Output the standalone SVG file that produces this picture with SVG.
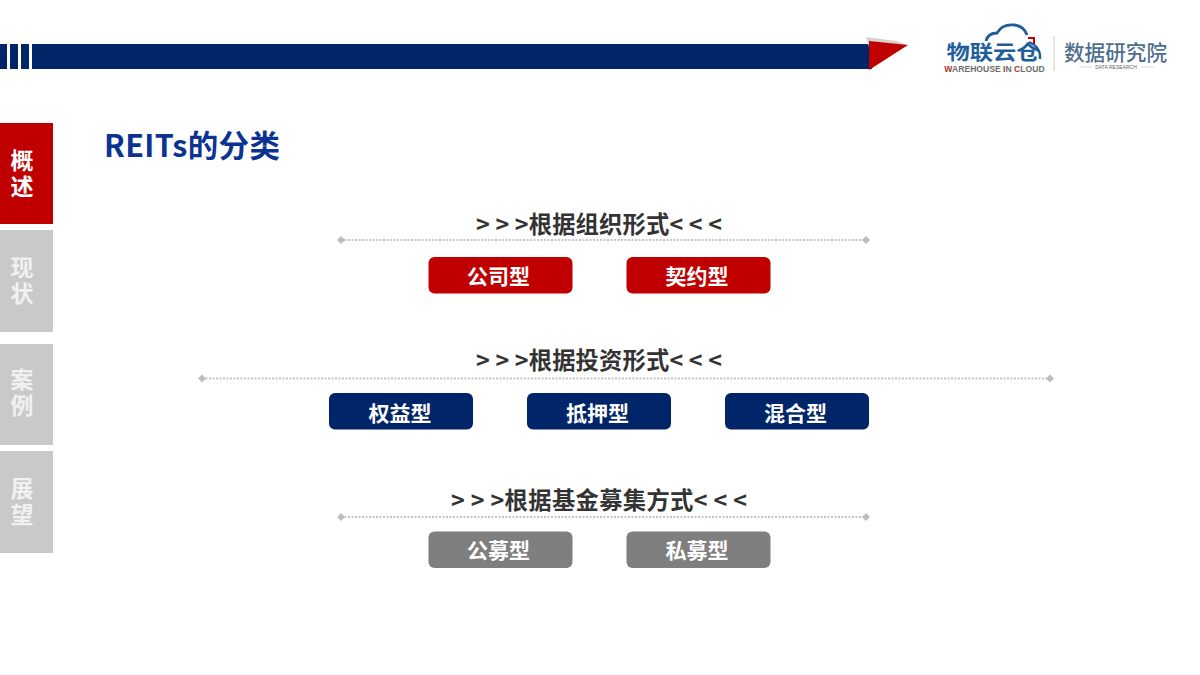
<svg xmlns="http://www.w3.org/2000/svg" width="1200" height="675" viewBox="0 0 1200 675">
<style>
text{font-family:"Noto Sans CJK SC","Liberation Sans",sans-serif;font-weight:700;text-anchor:middle}
.hd{font-size:23.300px;fill:#333}
.btn{font-size:21px;fill:#fff}
.side{font-size:23px;fill:#fff;writing-mode:vertical-rl;letter-spacing:3.500px}
.muted{fill:#f1f1f1}
.dot{stroke:#c4c4c4;stroke-width:2;stroke-dasharray:2 1.500;fill:none}
.end{fill:#bdbdbd}
.navy{fill:#002569}.red{fill:#c00000}.gr{fill:#7f7f7f}.lg{fill:#c9c9c9}
</style>
<rect width="1200" height="675" fill="#fff"/>
<g id="header">
<rect x="0" y="44" width="872" height="25" class="navy"/>
<rect x="7" y="44" width="3" height="25" fill="#fff"/><rect x="18" y="44" width="3" height="25" fill="#fff"/><rect x="29" y="44" width="3" height="25" fill="#fff"/>
<polygon points="866,37 896,41 908,45 869,47" fill="#d8d0d0"/>
<polygon points="869,41 908,45 869,70" fill="#c00000"/>
</g>
<g id="logo">
<path d="M986 41 Q988 33 997 33 Q1002 24 1014 25 Q1024 26 1027 35" fill="none" stroke="#1f5f99" stroke-width="2.800"/>
<path d="M1029 42 Q1041 47 1040 59" fill="none" stroke="#1f5f99" stroke-width="2.400"/>
<path d="M1028 38H1034V44" fill="none" stroke="#c00000" stroke-width="2"/>
<text x="993" y="60" textLength="93" lengthAdjust="spacingAndGlyphs" style="font-size:20px;fill:#1f5f99">物联云仓</text>
<text x="994.500" y="72" style="font-size:8.600px;fill:#6d6d6d;font-family:'Liberation Sans',sans-serif"><tspan fill="#a6342e">W</tspan>AREHOUSE <tspan fill="#a6342e">I</tspan>N <tspan fill="#a6342e">C</tspan>LOUD</text>
<line x1="1054" y1="36" x2="1054" y2="71" stroke="#ccc"/>
<text x="1115.500" y="60" textLength="103" lengthAdjust="spacingAndGlyphs" style="font-size:21px;fill:#4f6f8f;font-weight:500">数据研究院</text>
<line x1="1079" y1="67" x2="1092" y2="67" stroke="#ddd"/><line x1="1141" y1="67" x2="1154" y2="67" stroke="#ddd"/>
<text x="1116" y="69" style="font-size:5px;fill:#666;font-family:'Liberation Sans',sans-serif;font-weight:400">DATA RESEARCH</text>
</g>
<g id="nav-overview"><rect x="0" y="123" width="53" height="101" class="red"/><text class="side" x="22" y="175">概述</text></g>
<g id="nav-status"><rect x="0" y="230" width="53" height="102" class="lg"/><text class="side muted" x="22" y="282">现状</text></g>
<g id="nav-cases"><rect x="0" y="344" width="53" height="101" class="lg"/><text class="side muted" x="22" y="394">案例</text></g>
<g id="nav-outlook"><rect x="0" y="451" width="53" height="102" class="lg"/><text class="side muted" x="22" y="503">展望</text></g>
<text id="title" x="192" y="157" textLength="176" style="font-size:30.500px;fill:#0b3391">REITs的分类</text>
<g id="connectors">
<path class="dot" d="M341 240H866"/><polygon class="end" points="337,240 341,236 345,240 341,244"/><polygon class="end" points="862,240 866,236 870,240 866,244"/>
<path class="dot" d="M202 378.500H1050"/><polygon class="end" points="198,378.500 202,374.500 206,378.500 202,382.500"/><polygon class="end" points="1046,378.500 1050,374.500 1054,378.500 1050,382.500"/>
<path class="dot" d="M341 517H866"/><polygon class="end" points="337,517 341,513 345,517 341,521"/><polygon class="end" points="862,517 866,513 870,517 866,521"/>
</g>
<g id="heading-1"><text class="hd" x="599" y="233" textLength="246" xml:space="preserve">&gt; &gt; &gt;根据组织形式&lt; &lt; &lt;</text></g>
<g id="heading-2"><text class="hd" x="599" y="369" textLength="246" xml:space="preserve">&gt; &gt; &gt;根据投资形式&lt; &lt; &lt;</text></g>
<g id="heading-3"><text class="hd" x="599" y="509" textLength="296" xml:space="preserve">&gt; &gt; &gt;根据基金募集方式&lt; &lt; &lt;</text></g>
<g id="corporate"><rect x="428.500" y="257" width="144" height="36.500" rx="6" class="red"/><text class="btn" x="498.500" y="284">公司型</text></g>
<g id="contract"><rect x="626.500" y="257" width="144" height="36.500" rx="6" class="red"/><text class="btn" x="697" y="284">契约型</text></g>
<g id="equity"><rect x="329" y="393" width="144" height="36.500" rx="6" class="navy"/><text class="btn" x="400" y="421">权益型</text></g>
<g id="mortgage"><rect x="527" y="393" width="144" height="36.500" rx="6" class="navy"/><text class="btn" x="597.500" y="421">抵押型</text></g>
<g id="hybrid"><rect x="725" y="393" width="144" height="36.500" rx="6" class="navy"/><text class="btn" x="795.500" y="421">混合型</text></g>
<g id="public"><rect x="428.500" y="531.500" width="144" height="36.500" rx="6" class="gr"/><text class="btn" x="498.500" y="558">公募型</text></g>
<g id="private"><rect x="626.500" y="531.500" width="144" height="36.500" rx="6" class="gr"/><text class="btn" x="697" y="558">私募型</text></g>
</svg>
